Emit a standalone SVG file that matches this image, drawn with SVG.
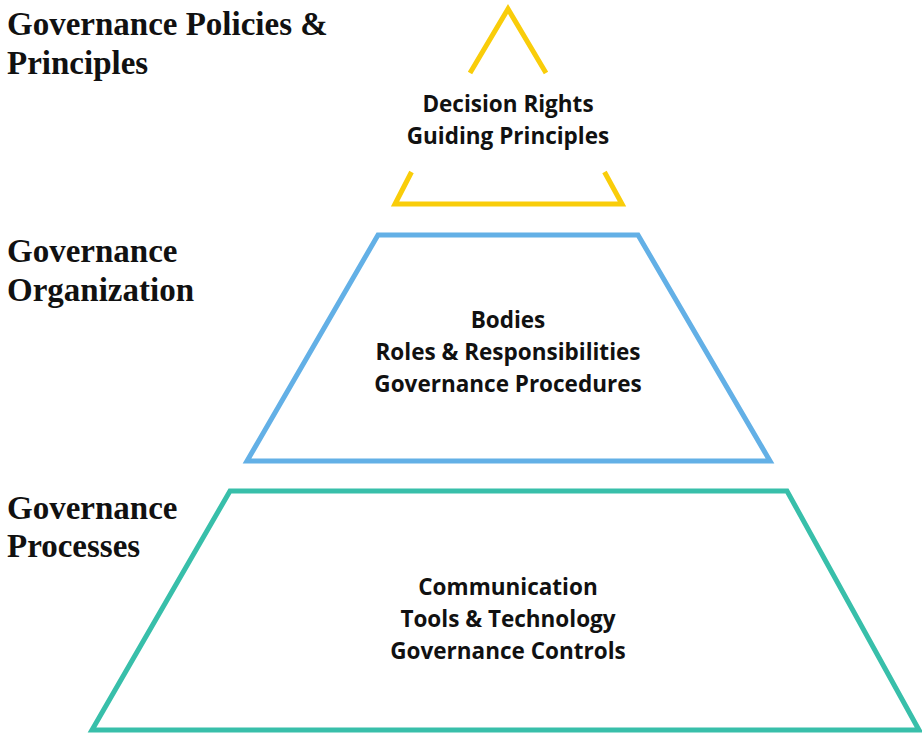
<svg xmlns="http://www.w3.org/2000/svg" width="922" height="733" viewBox="0 0 922 733">
<style>
.lbl{font-family:"Liberation Serif","Times New Roman",serif;font-weight:bold;font-size:33px;fill:#111}
.in{font-family:"Open Sans","Noto Sans",sans-serif;font-weight:bold;font-size:22.5px;fill:#111;text-anchor:middle}
.sh{fill:none;stroke-width:5;stroke-linejoin:miter}
</style>
<rect width="922" height="733" fill="#fff"/>
<g id="tier-policies">
<path class="sh" d="M470,73 L508,9 L546,73" stroke="#F9CD0A"/>
<path class="sh" d="M411.5,172 L395,204 L622,204 L604.5,172" stroke="#F9CD0A"/>
<text class="lbl" x="7" y="35">Governance Policies &amp;</text>
<text class="lbl" x="7" y="74">Principles</text>
<text class="in" x="508" y="112">Decision Rights</text>
<text class="in" x="508" y="144">Guiding Principles</text>
</g>
<g id="tier-organization">
<polygon class="sh" points="378,235 638,235 770,461 247,461" stroke="#63B0E6"/>
<text class="lbl" x="7" y="262">Governance</text>
<text class="lbl" x="7" y="301">Organization</text>
<text class="in" x="508" y="328">Bodies</text>
<text class="in" x="508" y="360">Roles &amp; Responsibilities</text>
<text class="in" x="508" y="392">Governance Procedures</text>
</g>
<g id="tier-processes">
<polygon class="sh" points="230,491 787,491 919,730 92,730" stroke="#38BFAA"/>
<text class="lbl" x="7" y="519">Governance</text>
<text class="lbl" x="7" y="557">Processes</text>
<text class="in" x="508" y="595">Communication</text>
<text class="in" x="508" y="627">Tools &amp; Technology</text>
<text class="in" x="508" y="659">Governance Controls</text>
</g>
<g id="connectors"/>
</svg>
